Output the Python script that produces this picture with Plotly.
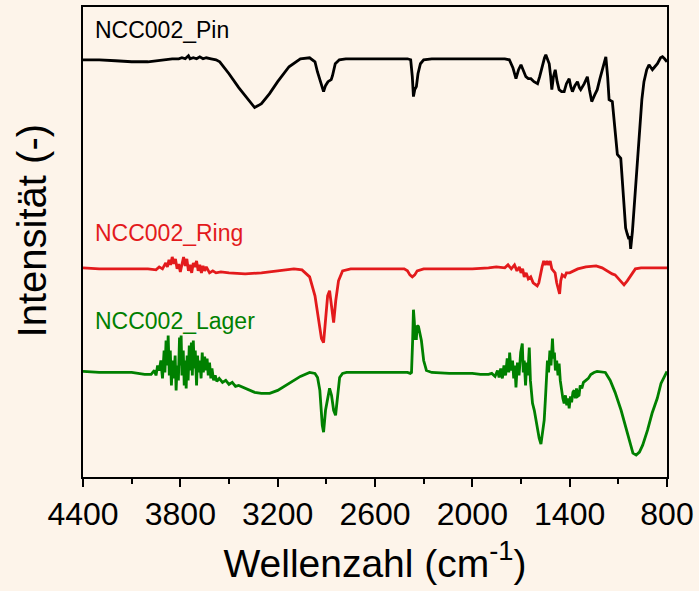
import plotly.graph_objects as go

# FTIR spectra of the NCC002 samples (offset for clarity, arbitrary units)
pin_wn = [4400, 4300, 4200, 4100, 4000, 3950, 3900, 3850, 3810, 3790, 3770, 3750, 3740, 3720,
          3700, 3680, 3660, 3640, 3610, 3580, 3557, 3500, 3440, 3380, 3342, 3320, 3300, 3250,
          3200, 3130, 3060, 3003, 2970, 2955, 2930, 2917, 2905, 2890, 2870, 2862, 2845, 2820,
          2780, 2600, 2400, 2380, 2370, 2363, 2355, 2345, 2335, 2320, 2300, 2250, 2000, 1800,
          1772, 1750, 1731, 1715, 1700, 1685, 1670, 1655, 1639, 1620, 1598, 1585, 1567, 1555,
          1547, 1537, 1526, 1517, 1510, 1500, 1489, 1477, 1465, 1450, 1434, 1420, 1403, 1393,
          1383, 1368, 1352, 1340, 1332, 1310, 1291, 1278, 1264, 1245, 1230, 1215, 1202, 1188,
          1177, 1166, 1157, 1137, 1122, 1106, 1085, 1070, 1055, 1045, 1035, 1030, 1024, 1013,
          1003, 990, 972, 955, 942, 925, 911, 890, 875, 859, 840, 828, 815, 800]
pin_int = [419, 419, 418, 417, 417, 418, 419, 420, 420, 421, 420, 423, 420, 421,
           420, 422, 420, 421, 420, 419, 417, 405, 391, 378, 371, 373, 375, 385,
           397, 412, 420, 421, 417, 407, 393, 387, 393, 397, 399, 403, 415, 419,
           420, 420, 420, 419, 402, 382, 389, 392, 405, 415, 419, 420, 420, 420,
           419, 411, 400, 409, 414, 407, 402, 400, 400, 397, 395, 402, 414, 421,
           424, 419, 415, 402, 389, 402, 409, 397, 389, 387, 387, 395, 400, 392,
           387, 393, 397, 391, 389, 395, 402, 389, 377, 384, 389, 399, 407, 417,
           422, 402, 379, 377, 347, 324, 320, 287, 250, 244, 239, 242, 229, 247,
           270, 307, 350, 379, 397, 409, 414, 409, 412, 415, 421, 422, 420, 417]

ring_wn = [4400, 4300, 4200, 4100, 4000, 3950, 3930, 3910, 3890, 3880, 3870, 3860, 3850, 3840,
           3830, 3820, 3810, 3800, 3790, 3780, 3770, 3760, 3750, 3740, 3730, 3720, 3710, 3700,
           3690, 3680, 3670, 3660, 3650, 3640, 3620, 3600, 3580, 3550, 3500, 3400, 3300, 3200,
           3100, 3050, 3003, 2970, 2945, 2930, 2917, 2905, 2892, 2880, 2868, 2855, 2842, 2825,
           2800, 2750, 2600, 2420, 2400, 2385, 2370, 2355, 2340, 2300, 2200, 2000, 1900, 1852,
           1800, 1780, 1760, 1740, 1725, 1710, 1700, 1690, 1680, 1668, 1655, 1640, 1625, 1610,
           1600, 1590, 1580, 1570, 1560, 1550, 1540, 1530, 1520, 1510, 1500, 1490, 1480, 1470,
           1462, 1455, 1446, 1430, 1420, 1400, 1385, 1350, 1300, 1237, 1200, 1160, 1138, 1120,
           1090, 1065, 1045, 1030, 1015, 995, 960, 900, 850, 800]
ring_int = [210, 209, 209, 209, 209, 208, 211, 209, 215, 211, 218, 213, 221, 214,
            219, 209, 214, 206, 215, 221, 212, 219, 207, 213, 205, 215, 211, 217,
            207, 213, 205, 212, 207, 211, 205, 207, 205, 206, 205, 204, 205, 207,
            209, 208, 201, 182, 152, 139, 135, 157, 182, 187, 172, 155, 177, 197,
            207, 209, 209, 209, 207, 203, 201, 203, 207, 209, 209, 209, 210, 211,
            210, 213, 209, 213, 207, 211, 205, 209, 201, 205, 199, 201, 195, 193,
            192, 195, 205, 211, 217, 213, 217, 213, 217, 209, 207, 205, 195, 187,
            184, 197, 203, 201, 205, 205, 206, 209, 211, 212, 210, 206, 204, 203,
            197, 193, 197, 201, 204, 209, 210, 210, 210, 210]

lager_wn = [4400, 4300, 4200, 4100, 4020, 3980, 3960, 3950, 3940, 3930, 3920, 3910, 3900, 3895,
            3888, 3880, 3875, 3868, 3862, 3855, 3848, 3840, 3832, 3826, 3820, 3812, 3805, 3800,
            3795, 3790, 3782, 3776, 3770, 3764, 3758, 3752, 3745, 3738, 3732, 3726, 3720, 3714,
            3708, 3700, 3694, 3688, 3680, 3672, 3665, 3658, 3650, 3642, 3635, 3628, 3620, 3612,
            3605, 3595, 3585, 3575, 3560, 3540, 3520, 3500, 3480, 3460, 3440, 3400, 3342, 3300,
            3249, 3200, 3126, 3060, 3003, 2970, 2954, 2940, 2925, 2917, 2905, 2892, 2880, 2868,
            2855, 2843, 2830, 2818, 2800, 2775, 2600, 2400, 2383, 2375, 2368, 2363, 2358, 2352,
            2345, 2340, 2332, 2325, 2314, 2300, 2283, 2250, 2142, 2050, 2000, 1950, 1900, 1880,
            1860, 1845, 1835, 1825, 1815, 1805, 1795, 1785, 1775, 1770, 1762, 1752, 1745, 1738,
            1731, 1722, 1712, 1702, 1692, 1686, 1680, 1672, 1665, 1658, 1649, 1642, 1636, 1629,
            1618, 1608, 1598, 1588, 1577, 1568, 1557, 1550, 1542, 1537, 1530, 1522, 1515, 1506,
            1500, 1494, 1488, 1480, 1472, 1465, 1458, 1450, 1442, 1434, 1426, 1418, 1410, 1403,
            1395, 1388, 1380, 1372, 1365, 1358, 1350, 1342, 1335, 1325, 1315, 1300, 1285, 1270,
            1250, 1231, 1180, 1150, 1120, 1083, 1052, 1030, 1010, 990, 970, 950, 920, 892,
            860, 837, 815, 800]
lager_int = [106, 105, 105, 105, 103, 103, 107, 102, 112, 107, 117, 99, 127, 105,
             137, 112, 142, 102, 127, 92, 117, 99, 122, 87, 112, 97, 140, 112,
             142, 102, 127, 92, 117, 89, 122, 97, 132, 107, 135, 102, 137, 109,
             127, 92, 122, 105, 117, 99, 125, 105, 121, 107, 119, 102, 115, 99,
             109, 97, 102, 96, 99, 95, 97, 93, 95, 91, 92, 89, 85, 84,
             84, 87, 94, 101, 105, 104, 100, 87, 52, 45, 67, 77, 89, 82,
             67, 62, 82, 100, 104, 105, 105, 105, 104, 105, 137, 168, 157, 139,
             139, 152, 151, 145, 137, 117, 107, 105, 104, 104, 104, 103, 103, 104,
             101, 107, 100, 109, 99, 112, 102, 119, 105, 125, 107, 117, 99, 112,
             90, 115, 102, 125, 134, 105, 117, 92, 115, 102, 130, 97, 87, 74,
             67, 57, 49, 39, 33, 47, 57, 77, 102, 117, 105, 127, 112, 139,
             119, 125, 107, 117, 102, 114, 97, 87, 79, 74, 82, 72, 79, 69,
             81, 75, 85, 87, 79, 89, 81, 82, 92, 89, 95, 97, 99, 103,
             105, 106, 105, 97, 85, 67, 49, 35, 24, 22, 25, 32, 47, 64,
             79, 94, 101, 106]

x_ticks = [4400, 3800, 3200, 2600, 2000, 1400, 800]

series = [
    ("NCC002_Pin", pin_wn, pin_int, "#000000", 449),
    ("NCC002_Ring", ring_wn, ring_int, "#e31a1c", 245),
    ("NCC002_Lager", lager_wn, lager_int, "#008000", 157),
]

FONT = "Arial, Liberation Sans, sans-serif"
BG = "#fdf4ea"

fig = go.Figure()
for name, wn, inten, color, label_y in series:
    fig.add_trace(go.Scatter(x=wn, y=inten, mode="lines", name=name,
                             line=dict(color=color, width=2.8), showlegend=False))
    fig.add_annotation(x=4340, y=label_y, xref="x", yref="y", text=name,
                       showarrow=False, xanchor="left", yanchor="middle",
                       font=dict(family=FONT, size=23, color=color))

# vertical axis label
fig.add_annotation(x=-0.087, y=0.523, xref="paper", yref="paper", text="Intensität (-)",
                   textangle=-90, showarrow=False, xanchor="center", yanchor="middle",
                   font=dict(family=FONT, size=40, color="#000000"))

fig.update_layout(
    width=699, height=591,
    margin=dict(l=83, r=31, t=5, b=114),
    paper_bgcolor=BG, plot_bgcolor=BG,
    font=dict(family=FONT, color="#000000"),
)
fig.update_xaxes(
    range=[4400, 800], tickvals=x_ticks, ticktext=[str(v) for v in x_ticks],
    ticks="outside", ticklen=8, tickwidth=1.5, tickcolor="#000000",
    minor=dict(dtick=300, tick0=800, ticks="outside", ticklen=5, tickwidth=1.5,
               tickcolor="#000000"),
    tickfont=dict(family=FONT, size=32, color="#000000"),
    showline=True, linecolor="#000000", linewidth=1.6, mirror=True,
    showgrid=False, zeroline=False,
    title=dict(text="Wellenzahl (cm<sup>-1</sup>)", standoff=18,
               font=dict(family=FONT, size=39, color="#000000")),
)
fig.update_yaxes(
    range=[0, 472], showticklabels=False, ticks="",
    showline=True, linecolor="#000000", linewidth=1.6, mirror=True,
    showgrid=False, zeroline=False,
)

fig.write_html("out.html")
